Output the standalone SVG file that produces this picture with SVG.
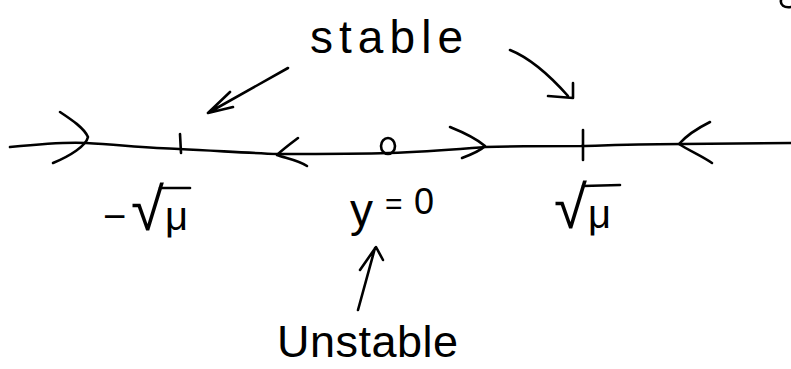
<svg xmlns="http://www.w3.org/2000/svg" width="791" height="369" viewBox="0 0 791 369">
<style>
.ink{fill:none;stroke:#000;stroke-width:2.6;stroke-linecap:round;stroke-linejoin:round}
.lbl{font-family:"Liberation Sans","DejaVu Sans",sans-serif;fill:#000}
</style>
<rect width="791" height="369" fill="#fff"/>
<g id="axis">
<path class="ink" d="M10,147 C40,144 70,142 86,143 C120,145 150,148 179,149 C220,151 250,153 278,154 C320,154 360,154 389,153 C430,152 460,149 485,147 C520,146 550,146 581,146 C620,145 650,144 682,144 L791,143"/>
<path class="ink" d="M60,112 C72,120 84,128 88,137 C86,146 70,156 53,163"/>
<path class="ink" d="M298,138 C290,144 282,150 277,155 C285,158 298,160 307,166"/>
<path class="ink" d="M450,127 C465,133 478,140 485,146 C480,151 470,155 462,158"/>
<path class="ink" d="M710,122 C698,128 686,136 679,144 C688,150 702,156 712,163"/>
</g>
<g id="node-neg-sqrt-mu-point"><path class="ink" d="M180,134 L181,153"/></g>
<g id="node-zero-point"><ellipse class="ink" cx="388" cy="146" rx="7" ry="8"/></g>
<g id="node-sqrt-mu-point"><path class="ink" d="M583,130 L583,160"/></g>
<g id="node-stable"><text class="lbl" x="310" y="53" font-size="46" textLength="153" lengthAdjust="spacing">stable</text></g>
<g id="node-unstable"><text class="lbl" x="277" y="357" font-size="45" textLength="181" lengthAdjust="spacing">Unstable</text></g>
<g id="node-neg-sqrt-mu">
<text class="lbl" y="230"><tspan x="103" font-size="40">−</tspan><tspan x="131" font-size="60">√</tspan><tspan x="165" font-size="40">μ</tspan></text>
<line class="ink" x1="160" y1="188" x2="190" y2="188"/>
</g>
<g id="node-y0"><text class="lbl"><tspan x="350" y="226" font-size="46">y</tspan><tspan x="385" y="214" font-size="30">=</tspan><tspan x="414" y="214" font-size="36">0</tspan></text></g>
<g id="node-sqrt-mu">
<text class="lbl" y="228"><tspan x="554" font-size="60">√</tspan><tspan x="588" font-size="40">μ</tspan></text>
<line class="ink" x1="583" y1="186" x2="620" y2="185"/>
</g>
<g id="corner-mark"><path class="ink" d="M791,7 C784,8 780,5 781,0"/></g>
<g id="connectors">
<path class="ink" d="M288,68 L208,113 M230,92 L208,113 L233,107"/>
<path class="ink" d="M510,50 C530,58 552,78 568,96 M573,83 L573,98 L548,96"/>
<path class="ink" d="M358,310 L375,248 M360,270 L376,247 L383,260"/>
</g>
</svg>
